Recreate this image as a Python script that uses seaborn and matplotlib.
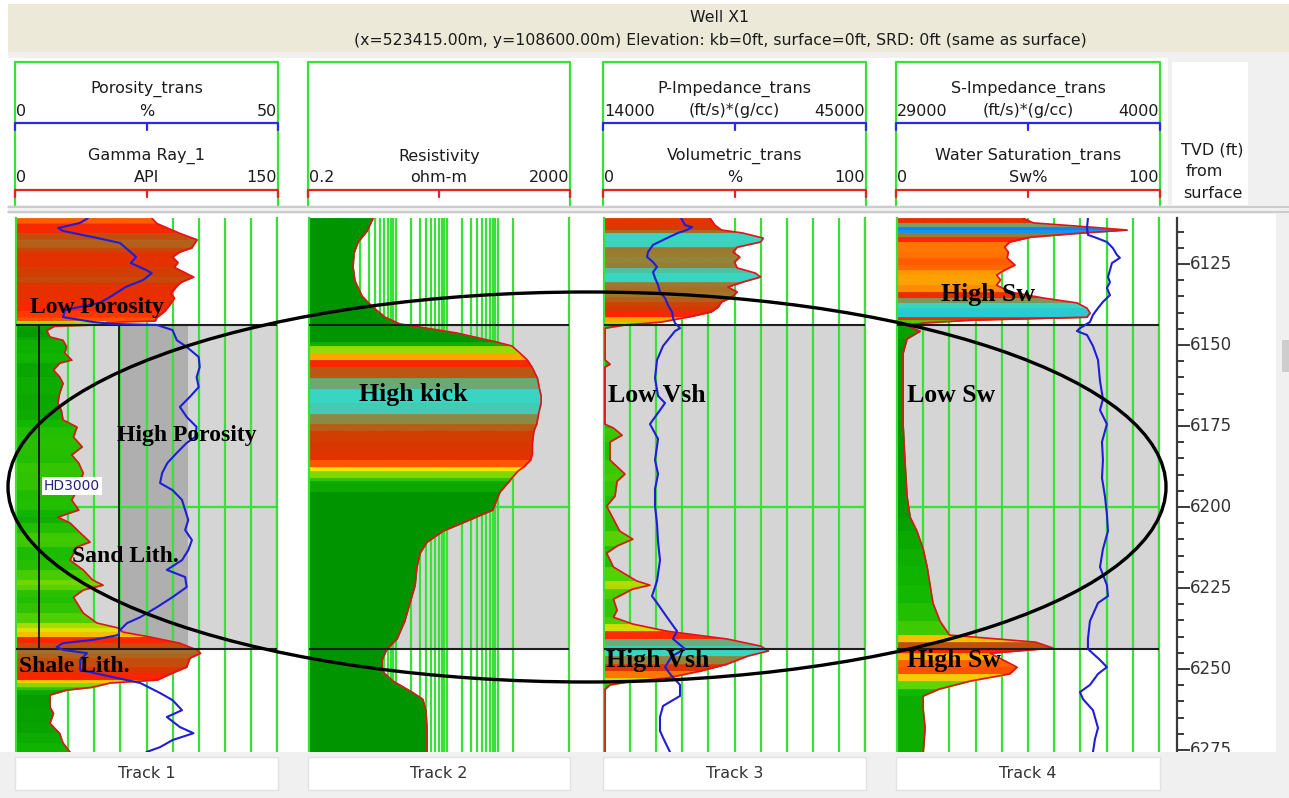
import numpy as np
import matplotlib
matplotlib.use("Agg")
import matplotlib.pyplot as plt
from matplotlib.colors import LinearSegmentedColormap, Normalize, LogNorm
from matplotlib.patches import Rectangle, Ellipse
from matplotlib.ticker import MultipleLocator, NullLocator, FixedLocator
import seaborn as sns

sns.set_theme(style="white")
plt.rcParams["font.family"] = ["DejaVu Sans"]

# ---------------- depth window, zone and markers (ft) ----------------
DEPTH_TOP, DEPTH_BASE = 6110.8, 6275.6
ZONE_TOP, ZONE_BASE = 6143.8, 6243.8
HD3000_DEPTH = 6193.5
DEPTH_TICKS = [6125, 6150, 6175, 6200, 6225, 6250, 6275]
DEPTH_GRID = [6200]

# ---------------- Track 1: Gamma Ray (API) + Porosity (%) ----------------
gr_depth = [6110.8, 6112.5, 6115.5, 6117.5, 6120.0, 6121.3, 6122.8, 6124.5, 6126.0, 6129.0,
            6130.6, 6131.5, 6134.0, 6135.5, 6137.5, 6139.5, 6141.5, 6142.6, 6143.0, 6143.7,
            6144.2, 6145.5, 6147.5, 6148.5, 6150.5, 6152.5, 6154.6, 6155.6, 6157.7, 6159.8,
            6161.8, 6164.9, 6167.9, 6170.1, 6173.1, 6175.3, 6178.4, 6181.4, 6183.9, 6186.4,
            6189.5, 6194.8, 6197.8, 6200.9, 6203.1, 6204.9, 6208.0, 6210.8, 6212.3, 6216.4,
            6219.4, 6222.5, 6224.1, 6225.6, 6227.8, 6229.6, 6232.7, 6235.8, 6237.3, 6238.6,
            6240.1, 6242.0, 6244.1, 6245.1, 6246.6, 6249.4, 6251.2, 6253.4, 6254.3, 6255.6,
            6256.5, 6258.0, 6261.7, 6263.6, 6266.7, 6269.8, 6272.8, 6275.6]
gr_api = [78, 81, 94, 104, 101, 94, 90, 93, 91, 102,
          95, 93, 89, 91, 88.5, 85.6, 81, 80, 52, 52,
          22, 17.6, 19.5, 27, 29, 28, 32, 25, 21.5, 25,
          27, 25, 24, 26, 27, 35, 33, 38, 32, 36,
          38.6, 35, 32, 36, 24, 31, 37, 42.5, 35, 31,
          38.6, 44, 50, 38.6, 33, 35, 38.6, 46.5, 58.6, 61.5,
          77, 94, 104, 106, 100, 98, 90, 81, 54, 44,
          29, 19.5, 19.5, 21.5, 19.5, 25, 27, 31]
por_depth = [6110.8, 6112.3, 6113.9, 6114.8, 6116.7, 6118.5, 6120.7, 6122.8, 6124.7, 6126.9,
             6127.8, 6129.9, 6132.1, 6135.2, 6137.0, 6139.2, 6141.4, 6142.9, 6143.5, 6143.8,
             6145.4, 6148.5, 6150.6, 6153.7, 6156.8, 6159.9, 6163.0, 6166.0, 6169.1, 6172.2,
             6175.3, 6178.4, 6180.2, 6183.3, 6186.4, 6189.5, 6192.6, 6194.8, 6197.8, 6200.9,
             6204.0, 6207.1, 6210.2, 6213.3, 6216.4, 6219.4, 6221.6, 6224.7, 6227.8, 6230.9,
             6234.0, 6235.8, 6238.0, 6239.5, 6241.0, 6242.0, 6243.2, 6244.1, 6245.1, 6247.2,
             6250.3, 6252.5, 6254.3, 6257.4, 6259.6, 6262.7, 6264.8, 6267.9, 6269.8, 6271.9,
             6274.1, 6275.6]
por_pct = [13.8, 12.3, 8.1, 9, 14.8, 19.9, 21.5, 23, 22, 25,
           26, 24.4, 21, 18, 16, 9.4, 9, 14.8, 18.6, 27,
           30, 30.8, 32.7, 35, 35.2, 34.6, 35, 33.3, 31.4, 32.7,
           34.6, 34.3, 32.7, 30.8, 29, 28, 27.6, 30, 31.8, 32.4,
           33, 32.4, 33.7, 33, 31.8, 28.9, 32.4, 32.7, 30, 27,
           23.8, 21.3, 19.9, 19.6, 14.8, 9, 7.8, 9, 13.6, 12.3,
           12.3, 18.6, 23.8, 27.6, 30, 31.8, 28.9, 31.4, 34, 30,
           27.6, 25]
GR_CUTOFFS = [13, 59]          # API cut-off lines inside the zone
GR_SAND_BAND = (59, 99)        # darker shading band inside the zone

# ---------------- Track 2: Resistivity (ohm-m) ----------------
res_depth = [6110.8, 6114.8, 6118.2, 6121.6, 6125.9, 6130.2, 6134.9, 6138.0, 6141.4, 6143.5,
             6144.8, 6146.3, 6149.1, 6150.3, 6152.5, 6154.6, 6156.8, 6160.2, 6163.6, 6165.7,
             6167.9, 6171.3, 6174.4, 6176.5, 6179.9, 6183.3, 6185.5, 6187.7, 6188.9, 6191.0,
             6192.0, 6195.4, 6200.9, 6204.3, 6207.4, 6210.8, 6214.2, 6218.5, 6224.1, 6229.6,
             6235.2, 6240.7, 6243.8, 6247.2, 6250.6, 6253.7, 6257.1, 6259.3, 6262.7, 6268.2,
             6275.6]
res_ohmm = [3.6, 2.74, 1.83, 1.52, 1.46, 1.59, 2.2, 3.4, 6.2, 12.2,
            41, 160, 970, 1900, 2740, 3800, 4700, 6000, 6600, 7100,
            7100, 6300, 5800, 5100, 4800, 4800, 4400, 3200, 2500, 1900,
            1700, 1100, 800, 250, 85, 41, 30, 26, 24, 19,
            15, 10.6, 6.7, 5.4, 5.4, 8.9, 21, 34, 39, 41,
            41]

# ---------------- Track 3: Volumetric (%) + P-Impedance ----------------
vsh_depth = [6110.8, 6113.0, 6114.5, 6115.4, 6117.0, 6118.2, 6119.8, 6121.3, 6122.8, 6124.4,
             6126.2, 6127.8, 6129.0, 6130.6, 6132.1, 6133.6, 6135.2, 6136.7, 6138.3, 6139.8,
             6141.4, 6142.9, 6143.8, 6144.8, 6154.6, 6155.9, 6156.8, 6174.4, 6175.6, 6177.8,
             6179.9, 6185.5, 6189.8, 6192.0, 6196.6, 6199.7, 6207.4, 6209.9, 6212.0, 6214.2,
             6218.5, 6222.8, 6224.1, 6225.3, 6228.4, 6231.8, 6234.0, 6236.1, 6238.3, 6240.7,
             6242.9, 6244.4, 6246.0, 6248.5, 6250.6, 6252.8, 6253.7, 6254.9, 6256.2, 6275.6]
vsh_pct = [40.6, 42.5, 45, 53, 61, 60, 51, 49.4, 52, 50,
           51, 58, 60, 53, 47.5, 51, 49, 45, 43.7, 41,
           32, 22, 8, 0.4, 0.4, 2.3, 0.3, 0.3, 3.6, 6.9,
           2.3, 2.3, 8, 5, 4.2, 1, 6, 11, 5, 1,
           3.6, 12.5, 17.6, 11, 3.6, 5, 3.6, 11, 24, 47,
           60, 63, 55, 47, 37, 24, 11, 2.3, 0.4, 0.4]
pimp_depth = [6110.8, 6113.0, 6113.6, 6114.5, 6115.4, 6117.0, 6119.1, 6121.3, 6122.8, 6124.4,
              6125.9, 6127.5, 6129.3, 6131.5, 6133.6, 6135.5, 6137.7, 6139.8, 6141.7, 6143.2,
              6144.8, 6145.7, 6150.3, 6154.6, 6160.2, 6165.7, 6167.9, 6170.1, 6174.4, 6179.0,
              6185.5, 6189.8, 6194.4, 6199.7, 6205.2, 6210.8, 6216.4, 6222.8, 6227.5, 6229.6,
              6234.0, 6238.3, 6240.7, 6243.8, 6246.0, 6249.4, 6251.5, 6254.9, 6258.3, 6261.4,
              6264.8, 6269.1, 6272.5, 6275.6]
pimp = [23150, 23620, 24450, 23860, 22790, 21480, 19820, 19230, 19110, 19820,
        20300, 19820, 20060, 20420, 20650, 21250, 21600, 22080, 22200, 22430,
        23030, 22430, 21010, 20300, 20060, 20420, 21250, 20650, 19460, 20420,
        20060, 20420, 20060, 20060, 20300, 20420, 20650, 20300, 19700, 20300,
        21480, 22670, 22200, 23620, 22080, 21250, 21840, 23030, 23030, 21010,
        20650, 20650, 21250, 21840]

# ---------------- Track 4: Water Saturation (%) + S-Impedance ----------------
sw_depth = [6110.8, 6112.3, 6113.6, 6114.5, 6115.4, 6116.7, 6118.2, 6119.8, 6121.3, 6123.1,
            6125.3, 6126.9, 6128.4, 6129.9, 6131.5, 6133.6, 6135.5, 6137.0, 6138.6, 6140.1,
            6141.4, 6142.3, 6143.2, 6144.1, 6145.7, 6148.1, 6152.5, 6174.4, 6185.5, 6196.6,
            6203.1, 6207.4, 6213.0, 6218.5, 6224.1, 6229.6, 6235.2, 6239.5, 6241.7, 6243.5,
            6245.1, 6247.2, 6249.4, 6251.5, 6253.7, 6256.2, 6258.3, 6262.7, 6268.2, 6275.6]
sw_pct = [48, 52, 73.7, 87.8, 71, 51, 43, 41, 42.5, 42,
          45, 41, 38, 39.5, 38, 43, 56, 68.7, 72.5, 73.7,
          72.5, 29, 10, 3.8, 8.8, 3.8, 2.3, 2.3, 3, 3.8,
          5, 7.6, 10, 11.5, 12.6, 13.7, 16.4, 20, 53, 59.5,
          35.5, 40.5, 45.8, 43, 28, 16, 10, 10, 10.7, 10]
simp_depth = [6110.8, 6113.9, 6116.0, 6117.0, 6118.2, 6120.1, 6122.2, 6123.1, 6124.7, 6126.9,
              6129.0, 6130.6, 6132.4, 6134.6, 6136.7, 6138.6, 6140.7, 6142.9, 6144.8, 6145.7,
              6146.9, 6150.3, 6154.6, 6161.1, 6166.7, 6170.1, 6174.4, 6179.9, 6185.5, 6191.0,
              6196.6, 6202.2, 6207.4, 6213.0, 6218.5, 6224.1, 6227.5, 6229.6, 6235.2, 6240.7,
              6243.8, 6247.2, 6249.4, 6251.5, 6254.9, 6257.1, 6259.3, 6262.7, 6268.2, 6271.6,
              6275.6]
simp = [10780, 10870, 10780, 9920, 8970, 8400, 8010, 7730, 8490, 8680,
        8870, 8680, 8970, 8680, 9350, 9820, 10300, 10590, 11540, 11830,
        10870, 10300, 9820, 9630, 9350, 9630, 8970, 9440, 9350, 9440,
        9160, 8970, 8870, 9350, 9630, 8970, 8870, 9820, 10590, 10780,
        10780, 9630, 8970, 9820, 10590, 11540, 11250, 10300, 9820, 10110,
        10300]

# ---------------- header scale definitions ----------------
GR_SCALE = (0, 150)
POR_SCALE = (0, 50)
RES_SCALE = (0.2, 2000)
RES_AXIS = (0.2, 25000)
VSH_SCALE = (0, 100)
PIMP_SCALE = (14000, 45000)
SW_SCALE = (0, 100)
SIMP_SCALE = (29000, 4000)

# ---------------- styling ----------------
W, H = 1289, 798
GREEN = "#38E038"
RED = "#E3121B"
BLUE = "#1E1ED8"
ZONE_GRAY = "#D5D5D5"
BAND_GRAY = "#AFAFAF"
TXT = "#1C1C1C"

fill_cmap = LinearSegmentedColormap.from_list("litho", [
    (0.00, "#009400"), (0.12, "#12B800"), (0.22, "#5CD400"), (0.30, "#C8DC00"),
    (0.36, "#F2E600"), (0.44, "#FF9000"), (0.52, "#FF2400"), (0.60, "#D43A00"),
    (0.68, "#9C7A2C"), (0.74, "#38D6C2"), (0.80, "#38D6C2"), (0.88, "#10B4F4"),
    (0.95, "#2050E8"), (1.00, "#7A1CE0")])
NORM_T1 = Normalize(15, 150, clip=True)
NORM_T2 = LogNorm(1234, 12340, clip=True)
NORM_T3 = Normalize(-10.7, 79.3, clip=True)
NORM_T4 = Normalize(2.8, 88, clip=True)

TRACK_X = [(16, 277), (309, 569), (604, 865), (897, 1159)]
DATA_Y = (218, 752)


def frac(x0, y0, x1, y1):
    return [x0 / W, 1 - y1 / H, (x1 - x0) / W, (y1 - y0) / H]


fig = plt.figure(figsize=(W / 100, H / 100), dpi=100, facecolor="white")

# ---------------- background layer: title bar, headers, panels ----------------
bg = fig.add_axes([0, 0, 1, 1], zorder=-5)
bg.set_xlim(0, W)
bg.set_ylim(H, 0)
bg.axis("off")
bg.add_patch(Rectangle((8, 4), W - 8, 48, fc="#ECE9D8", ec="none"))
bg.add_patch(Rectangle((8, 52), W - 8, 6, fc="#F0F0F0", ec="none"))
bg.add_patch(Rectangle((1168, 58), W - 1168, 150, fc="#F0F0F0", ec="none"))
bg.add_patch(Rectangle((1172, 62), 76, 143, fc="white", ec="none"))
bg.add_patch(Rectangle((8, 205), W - 8, 9, fc="#F0F0F0", ec="none"))
bg.plot([8, W], [207, 207], color="#C4C4C4", lw=1.2)
bg.plot([8, W], [212, 212], color="#C4C4C4", lw=1.2)
bg.add_patch(Rectangle((1276, 214), W - 1276, 538, fc="#F0F0F0", ec="none"))
bg.add_patch(Rectangle((1282, 340), 7, 32, fc="#CDCDCD", ec="none"))

bg.text(720, 18, "Well X1", ha="center", va="center", fontsize=11.3, color=TXT)
bg.text(720, 41, "(x=523415.00m, y=108600.00m) Elevation: kb=0ft, surface=0ft, "
        "SRD: 0ft (same as surface)", ha="center", va="center", fontsize=11.3, color=TXT)


def fmt(v):
    return f"{v:g}"


def scale_header(x0, x1, y_name, name, lims, unit, color):
    xc = 0.5 * (x0 + x1)
    bg.text(xc, y_name, name, ha="center", va="center", fontsize=11.5, color=TXT)
    yv = y_name + 22
    bg.text(x0 + 1, yv, fmt(lims[0]), ha="left", va="center", fontsize=11.5, color=TXT)
    bg.text(xc, yv, unit, ha="center", va="center", fontsize=11.5, color=TXT)
    bg.text(x1 - 1, yv, fmt(lims[1]), ha="right", va="center", fontsize=11.5, color=TXT)
    yl = y_name + 34
    bg.plot([x0, x1], [yl, yl], color=color, lw=1.6, solid_capstyle="butt")
    for xt in (x0, xc, x1):
        bg.plot([xt, xt], [yl, yl + 7], color=color, lw=1.6)


headers = [
    (("Porosity_trans", POR_SCALE, "%"), ("Gamma Ray_1", GR_SCALE, "API")),
    (None, ("Resistivity", RES_SCALE, "ohm-m")),
    (("P-Impedance_trans", PIMP_SCALE, "(ft/s)*(g/cc)"), ("Volumetric_trans", VSH_SCALE, "%")),
    (("S-Impedance_trans", SIMP_SCALE, "(ft/s)*(g/cc)"), ("Water Saturation_trans", SW_SCALE, "Sw%")),
]
for (x0, x1), (upper, lower) in zip(TRACK_X, headers):
    bx0, bx1 = x0 - 1, x1 + 1
    bg.plot([bx0, bx0, bx1, bx1], [205, 62, 62, 205], color=GREEN, lw=1.6)
    if upper:
        scale_header(bx0, bx1, 89, upper[0], upper[1], upper[2], "#2A2AE0")
    scale_header(bx0, bx1, 156, lower[0], lower[1], lower[2], "#E82020")

bg.text(1181, 150, "TVD (ft)", ha="left", va="center", fontsize=11.5, color=TXT)
bg.text(1186, 172, "from", ha="left", va="center", fontsize=11.5, color=TXT)
bg.text(1183, 193, "surface", ha="left", va="center", fontsize=11.5, color=TXT)


# ---------------- log tracks ----------------
def make_track(x0, x1, xlim, ticks, log=False):
    ax = fig.add_axes(frac(x0, DATA_Y[0], x1, DATA_Y[1]), zorder=2)
    ax.set_facecolor("none")
    if log:
        ax.set_xscale("log")
    ax.set_xlim(*xlim)
    ax.set_ylim(DEPTH_BASE, DEPTH_TOP)
    ax.xaxis.set_major_locator(FixedLocator(ticks))
    ax.xaxis.set_minor_locator(NullLocator())
    ax.yaxis.set_major_locator(FixedLocator(DEPTH_GRID))
    ax.yaxis.set_minor_locator(NullLocator())
    ax.grid(True, which="major", color=GREEN, lw=1.6)
    ax.set_axisbelow("line")
    ax.tick_params(length=0, labelbottom=False, labelleft=False)
    for s in ("top", "bottom"):
        ax.spines[s].set_visible(False)
    for s in ("left", "right"):
        ax.spines[s].set_visible(True)
        ax.spines[s].set_color(GREEN)
        ax.spines[s].set_linewidth(1.6)
    ax.axhspan(ZONE_TOP, ZONE_BASE, color=ZONE_GRAY, lw=0, zorder=0.4)
    return ax


def colour_fill(ax, depth, values, base, norm):
    t = np.asarray(norm(np.asarray(values, dtype=float)))
    for i in range(len(depth) - 1):
        c = fill_cmap(0.5 * (t[i] + t[i + 1]))
        ax.fill_betweenx([depth[i], depth[i + 1]], base, [values[i], values[i + 1]],
                         color=c, lw=0.6, zorder=2)


def outline(ax, depth, values, color, lw, xlim):
    sns.lineplot(x=values, y=depth, orient="y", sort=False, estimator=None,
                 color=color, lw=lw, ax=ax, zorder=3)
    ax.set_xlim(*xlim)
    ax.set_ylim(DEPTH_BASE, DEPTH_TOP)
    ax.set_xlabel("")
    ax.set_ylabel("")


def twin_curve(ax, depth, values, xlim):
    tw = ax.twiny()
    tw.set_xlim(*xlim)
    outline(tw, depth, values, BLUE, 1.5, xlim)
    tw.set_axis_off()
    ax.set_ylim(DEPTH_BASE, DEPTH_TOP)
    return tw


def zone_lines(ax):
    for d in (ZONE_TOP, ZONE_BASE):
        ax.axhline(d, color="#1E1E1E", lw=1.5, zorder=5)


# Track 1
ax1 = make_track(*TRACK_X[0], GR_SCALE, np.linspace(*GR_SCALE, 11))
ax1.fill_betweenx([ZONE_TOP, ZONE_BASE], *GR_SAND_BAND, color=BAND_GRAY, lw=0, zorder=0.5)
colour_fill(ax1, gr_depth, gr_api, GR_SCALE[0], NORM_T1)
outline(ax1, gr_depth, gr_api, RED, 1.2, GR_SCALE)
ax1.vlines(GR_CUTOFFS, ZONE_TOP, ZONE_BASE, colors="#151515", lw=1.3, zorder=4)
zone_lines(ax1)
ax1.text(16, HD3000_DEPTH, "HD3000", ha="left", va="center", fontsize=10, color="#22227A",
         zorder=6, bbox=dict(boxstyle="square,pad=0.15", fc="white", ec="none"))
twin_curve(ax1, por_depth, por_pct, POR_SCALE)

# Track 2 (logarithmic grid up to the scale maximum)
res_grid = [k * 10.0 ** e for e in range(-1, 4) for k in range(1, 10)
            if RES_SCALE[0] <= k * 10.0 ** e <= RES_SCALE[1]]
ax2 = make_track(*TRACK_X[1], RES_AXIS, res_grid, log=True)
colour_fill(ax2, res_depth, res_ohmm, RES_AXIS[0], NORM_T2)
outline(ax2, res_depth, res_ohmm, RED, 1.2, RES_AXIS)
zone_lines(ax2)

# Track 3
ax3 = make_track(*TRACK_X[2], VSH_SCALE, np.linspace(*VSH_SCALE, 11))
colour_fill(ax3, vsh_depth, vsh_pct, VSH_SCALE[0], NORM_T3)
outline(ax3, vsh_depth, vsh_pct, RED, 1.2, VSH_SCALE)
zone_lines(ax3)
twin_curve(ax3, pimp_depth, pimp, PIMP_SCALE)

# Track 4
ax4 = make_track(*TRACK_X[3], SW_SCALE, np.linspace(*SW_SCALE, 11))
colour_fill(ax4, sw_depth, sw_pct, SW_SCALE[0], NORM_T4)
outline(ax4, sw_depth, sw_pct, RED, 1.2, SW_SCALE)
zone_lines(ax4)
twin_curve(ax4, simp_depth, simp, SIMP_SCALE)

# ---------------- depth column ----------------
dax = fig.add_axes(frac(1177, DATA_Y[0], 1276, DATA_Y[1]), zorder=2)
dax.set_facecolor("white")
dax.set_ylim(DEPTH_BASE, DEPTH_TOP)
dax.set_xlim(0, 1)
for s in ("top", "right", "bottom"):
    dax.spines[s].set_visible(False)
dax.spines["left"].set_visible(True)
dax.spines["left"].set_color("#3A3A3A")
dax.spines["left"].set_linewidth(1.6)
dax.set_xticks([])
dax.yaxis.set_major_locator(FixedLocator(DEPTH_TICKS))
dax.yaxis.set_minor_locator(MultipleLocator(5))
dax.tick_params(axis="y", which="major", left=True, direction="in", length=9.5,
                width=1.4, color="#3A3A3A", labelleft=False)
dax.tick_params(axis="y", which="minor", left=True, direction="in", length=5,
                width=1.4, color="#3A3A3A")
for d in DEPTH_TICKS:
    dax.text(0.135, d, f"{d}", transform=dax.get_yaxis_transform(), ha="left",
             va="center", fontsize=12, color="#333333", clip_on=True)

# ---------------- overlay: footer, highlight ellipse, interpretation labels ----------------
ov = fig.add_axes([0, 0, 1, 1], zorder=30)
ov.set_xlim(0, W)
ov.set_ylim(H, 0)
ov.axis("off")
ov.add_patch(Rectangle((0, 752), W, H - 752, fc="#F0F0F0", ec="none"))
for i, (x0, x1) in enumerate(TRACK_X):
    ov.add_patch(Rectangle((x0 - 1, 757), x1 - x0 + 2, 33, fc="white", ec="#E2E2E2", lw=1))
    ov.text(0.5 * (x0 + x1), 774, f"Track {i + 1}", ha="center", va="center",
            fontsize=11.5, color="#333333")

ov.add_patch(Ellipse((587, 487), 1158, 390, fill=False, ec="black", lw=2.4))

serif = dict(family="Liberation Serif", weight="bold", color="black", va="center", ha="left")
for txt, x, y, size in [
    ("Low Porosity", 30, 308, 17), ("High Porosity", 117, 435, 17),
    ("Sand Lith.", 72, 557, 17), ("Shale Lith.", 19, 667, 17),
    ("High kick", 359, 395, 18.5), ("Low Vsh", 608, 395, 18.5),
    ("High Vsh", 606, 661, 18.5), ("High Sw", 941, 294, 18.5),
    ("Low Sw", 907, 396, 18.5), ("High Sw", 907, 661, 18.5),
]:
    ov.text(x, y, txt, fontsize=size, **serif)

fig.savefig("out.png", dpi=100, facecolor=fig.get_facecolor())
